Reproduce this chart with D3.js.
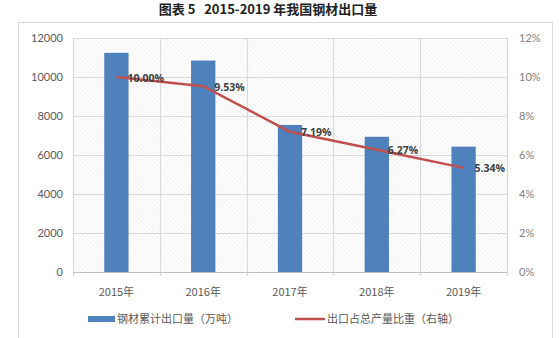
<!DOCTYPE html>
<html>
<head>
<meta charset="utf-8">
<script src="https://cdn.jsdelivr.net/npm/d3@7"></script>
<style>
  html, body { margin: 0; padding: 0; background: #fff; }
  svg { display: block; }
</style>
</head>
<body>
<svg id="chart" width="559" height="338"></svg>
<script>
// 2015-2019 steel exports (10k tonnes) and share of total output (%)
const years = ["2015年", "2016年", "2017年", "2018年", "2019年"];
const exportVolume = [11240, 10843, 7541, 6934, 6429];
const exportShare = [10.00, 9.53, 7.19, 6.27, 5.34];
const leftTicks = [0, 2000, 4000, 6000, 8000, 10000, 12000];
const rightTicks = [0, 2, 4, 6, 8, 10, 12];
const titleText = "图表 5   2015-2019 年我国钢材出口量";
const barLegend = "钢材累计出口量（万吨）";
const lineLegend = "出口占总产量比重（右轴）";

const svg = d3.select("#chart");
const plot = { left: 73, right: 507, top: 38, bottom: 272 };
const numFont = "Lato, 'Liberation Sans', sans-serif";
const cjkFont = "'Noto Sans CJK SC', sans-serif";

// hatched plot background
const defs = svg.append("defs");
const pat = defs.append("pattern")
  .attr("id", "hatch").attr("patternUnits", "userSpaceOnUse")
  .attr("width", 3).attr("height", 3)
  .attr("patternTransform", "rotate(-45)");
pat.append("rect").attr("width", 3).attr("height", 3).attr("fill", "#ffffff");
pat.append("line").attr("x1", 0).attr("y1", 0).attr("x2", 0).attr("y2", 3)
  .attr("stroke", "#e6e6e6").attr("stroke-width", 1);

// outer frame
svg.append("rect").attr("x", 18.5).attr("y", 22.5).attr("width", 534).attr("height", 330)
  .attr("fill", "none").attr("stroke", "#d9d9d9");

// title
svg.append("text").attr("x", 268).attr("y", 14)
  .attr("text-anchor", "middle").attr("font-family", cjkFont)
  .attr("font-size", 13).attr("font-weight", "bold").attr("fill", "#222")
  .style("white-space", "pre")
  .text(titleText);

const x = d3.scaleBand().domain(years).range([plot.left, plot.right]).paddingInner(0.72).paddingOuter(0.36);
const xCenter = d => x(d) + x.bandwidth() / 2;
const yL = d3.scaleLinear().domain([0, 12000]).range([plot.bottom, plot.top]);
const yR = d3.scaleLinear().domain([0, 12]).range([plot.bottom, plot.top]);

svg.append("rect").attr("x", plot.left).attr("y", plot.top)
  .attr("width", plot.right - plot.left).attr("height", plot.bottom - plot.top)
  .attr("fill", "url(#hatch)");

// horizontal gridlines
svg.append("g").selectAll("line").data(leftTicks).join("line")
  .attr("x1", plot.left).attr("x2", plot.right)
  .attr("y1", d => Math.round(yL(d)) + 0.5).attr("y2", d => Math.round(yL(d)) + 0.5)
  .attr("stroke", "#d9d9d9").attr("stroke-width", 1.2);

// vertical gridlines at category boundaries
const step = (plot.right - plot.left) / years.length;
const bounds = d3.range(years.length + 1).map(i => plot.left + i * step);
svg.append("g").selectAll("line").data(bounds).join("line")
  .attr("x1", d => Math.round(d) + 0.5).attr("x2", d => Math.round(d) + 0.5)
  .attr("y1", plot.top).attr("y2", plot.bottom + 4)
  .attr("stroke", "#d9d9d9").attr("stroke-width", 1.2);

// bars
svg.append("g").selectAll("rect").data(years).join("rect")
  .attr("x", d => x(d)).attr("width", x.bandwidth())
  .attr("y", (d, i) => yL(exportVolume[i]))
  .attr("height", (d, i) => plot.bottom - yL(exportVolume[i]))
  .attr("fill", "#4f81bd");

// x axis line
svg.append("line").attr("x1", plot.left).attr("x2", plot.right)
  .attr("y1", plot.bottom + 0.5).attr("y2", plot.bottom + 0.5)
  .attr("stroke", "#bfbfbf");

// left axis labels
svg.append("g").selectAll("text").data(leftTicks).join("text")
  .attr("x", 63).attr("y", d => yL(d) + 4)
  .attr("text-anchor", "end").attr("font-family", numFont)
  .attr("font-size", 11).attr("fill", "#595959")
  .text(d => d);

// right axis labels
svg.append("g").selectAll("text").data(rightTicks).join("text")
  .attr("x", 519).attr("y", d => yR(d) + 4)
  .attr("text-anchor", "start").attr("font-family", numFont)
  .attr("font-size", 11).attr("fill", "#808080")
  .text(d => d + "%");

// category labels
svg.append("g").selectAll("text").data(years).join("text")
  .attr("x", d => xCenter(d)).attr("y", 296)
  .attr("text-anchor", "middle").attr("font-family", cjkFont)
  .attr("font-size", 11).attr("fill", "#595959")
  .text(d => d);

// share line
const line = d3.line().x(d => xCenter(d[0])).y(d => yR(d[1]));
svg.append("path").datum(years.map((d, i) => [d, exportShare[i]]))
  .attr("d", line).attr("fill", "none")
  .attr("stroke", "#c0504d").attr("stroke-width", 2.5).attr("stroke-linejoin", "round");

// value labels
svg.append("g").selectAll("text").data(years).join("text")
  .attr("x", d => xCenter(d) + 11).attr("y", (d, i) => yR(exportShare[i]) + 4.5)
  .attr("font-family", "'Open Sans', sans-serif").attr("font-weight", "bold")
  .attr("font-size", 10.5).attr("fill", "#404040")
  .text((d, i) => exportShare[i].toFixed(2) + "%");

// legend
const lg = svg.append("g").attr("font-family", cjkFont).attr("font-size", 11).attr("fill", "#595959");
lg.append("rect").attr("x", 88).attr("y", 316).attr("width", 27).attr("height", 6).attr("fill", "#4f81bd");
lg.append("text").attr("x", 117).attr("y", 323).text(barLegend);
lg.append("line").attr("x1", 295).attr("x2", 325).attr("y1", 319).attr("y2", 319)
  .attr("stroke", "#c0504d").attr("stroke-width", 2.5);
lg.append("text").attr("x", 327).attr("y", 323).text(lineLegend);
</script>
</body>
</html>
